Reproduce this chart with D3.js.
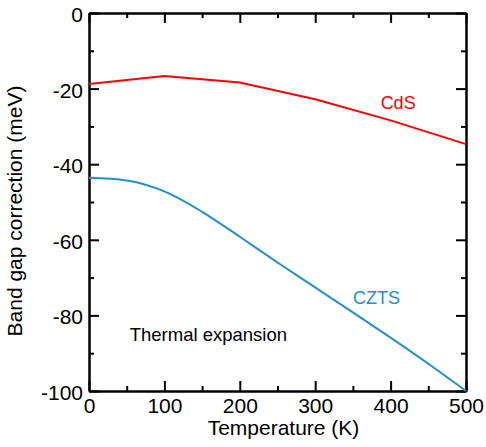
<!DOCTYPE html>
<html>
<head>
<meta charset="utf-8">
<script src="https://cdn.jsdelivr.net/npm/d3@7"></script>
<style>
  body { margin: 0; background: #fff; }
  svg text { font-family: "Liberation Sans", Arial, Helvetica, sans-serif; }
  .axis path, .axis line { stroke: #000; stroke-width: 2; }
</style>
</head>
<body>
<div id="chart"></div>
<script>
// data
const cdsTemps = [0, 100, 200, 300, 400, 500];
const cdsGap = [-18.8, -16.7, -18.4, -22.8, -28.4, -34.7];

const cztsTemps = [0, 50, 100, 150, 200, 250, 300, 350, 400, 450, 500];
const cztsGap = [-43.6, -44.3, -47.2, -52.6, -59.2, -66.0, -72.6, -79.2, -85.9, -92.8, -100];

const xMajor = [0, 100, 200, 300, 400, 500];
const xMinor = [50, 150, 250, 350, 450];
const yMajor = [0, -20, -40, -60, -80, -100];
const yMinor = [-10, -30, -50, -70, -90];

// chart area
let margin = {top: 13, right: 20, bottom: 56, left: 89},
    width = 486 - margin.left - margin.right,
    height = 447 - margin.top - margin.bottom;

let svg = d3.select("#chart").append("svg")
    .attr("width", 486)
    .attr("height", 447)
    .append("g")
    .attr("transform", "translate(" + margin.left + "," + margin.top + ")");

let x = d3.scaleLinear().domain([0, 500]).range([0, width]);
let y = d3.scaleLinear().domain([-100, 0]).range([height, 0]);

// plain hyphen for negative numbers, like the original
let plain = d => String(d);

// axes, ticks pointing inward on all four sides
function addAxis(axis, transform, showLabels) {
    let g = svg.append("g")
        .attr("class", "axis")
        .attr("transform", transform)
        .call(axis);
    if (!showLabels) g.selectAll("text").remove();
    return g;
}

let xBottom = addAxis(d3.axisBottom(x).tickValues(xMajor).tickFormat(plain).tickSize(-10).tickSizeOuter(0).tickPadding(7),
    "translate(0," + height + ")", true);
addAxis(d3.axisBottom(x).tickValues(xMinor).tickSize(-5).tickSizeOuter(0), "translate(0," + height + ")", false);
addAxis(d3.axisTop(x).tickValues(xMajor).tickSize(-10).tickSizeOuter(0), "translate(0,0)", false);
addAxis(d3.axisTop(x).tickValues(xMinor).tickSize(-5).tickSizeOuter(0), "translate(0,0)", false);

let yLeft = addAxis(d3.axisLeft(y).tickValues(yMajor).tickFormat(plain).tickSize(-10).tickSizeOuter(0).tickPadding(6),
    "translate(0,0)", true);
addAxis(d3.axisLeft(y).tickValues(yMinor).tickSize(-5).tickSizeOuter(0), "translate(0,0)", false);
addAxis(d3.axisRight(y).tickValues(yMajor).tickSize(-10).tickSizeOuter(0), "translate(" + width + ",0)", false);
addAxis(d3.axisRight(y).tickValues(yMinor).tickSize(-5).tickSizeOuter(0), "translate(" + width + ",0)", false);

xBottom.selectAll("text")
    .attr("font-size", 21)
    .attr("fill", "#000");
yLeft.selectAll("text")
    .attr("font-size", 21)
    .attr("fill", "#000")
    .attr("dy", "0.4em");

// axis titles
svg.append("text")
    .attr("x", width / 2 + 6)
    .attr("y", height + 44)
    .attr("text-anchor", "middle")
    .attr("font-size", 21)
    .text("Temperature (K)");

svg.append("text")
    .attr("transform", "translate(" + (-67) + "," + (height / 2 + 9) + ") rotate(-90)")
    .attr("text-anchor", "middle")
    .attr("font-size", 21)
    .text("Band gap correction (meV)");

// lines
let cdsLine = d3.line()
    .x((d, i) => x(cdsTemps[i]))
    .y(d => y(d));

let cztsLine = d3.line()
    .x((d, i) => x(cztsTemps[i]))
    .y(d => y(d))
    .curve(d3.curveMonotoneX);

svg.append("path")
    .datum(cdsGap)
    .attr("d", cdsLine)
    .attr("fill", "none")
    .attr("stroke", "#ff0000")
    .attr("stroke-width", 2);

svg.append("path")
    .datum(cztsGap)
    .attr("d", cztsLine)
    .attr("fill", "none")
    .attr("stroke", "#2290cc")
    .attr("stroke-width", 2);

// labels
svg.append("text")
    .attr("x", x(410))
    .attr("y", y(-25.5))
    .attr("text-anchor", "middle")
    .attr("font-size", 18)
    .attr("fill", "#ff0000")
    .text("CdS");

svg.append("text")
    .attr("x", x(350))
    .attr("y", y(-76.9))
    .attr("text-anchor", "start")
    .attr("font-size", 18)
    .attr("fill", "#2290cc")
    .text("CZTS");

svg.append("text")
    .attr("x", x(54))
    .attr("y", y(-86.8))
    .attr("font-size", 18.5)
    .attr("fill", "#000")
    .text("Thermal expansion");
</script>
</body>
</html>
